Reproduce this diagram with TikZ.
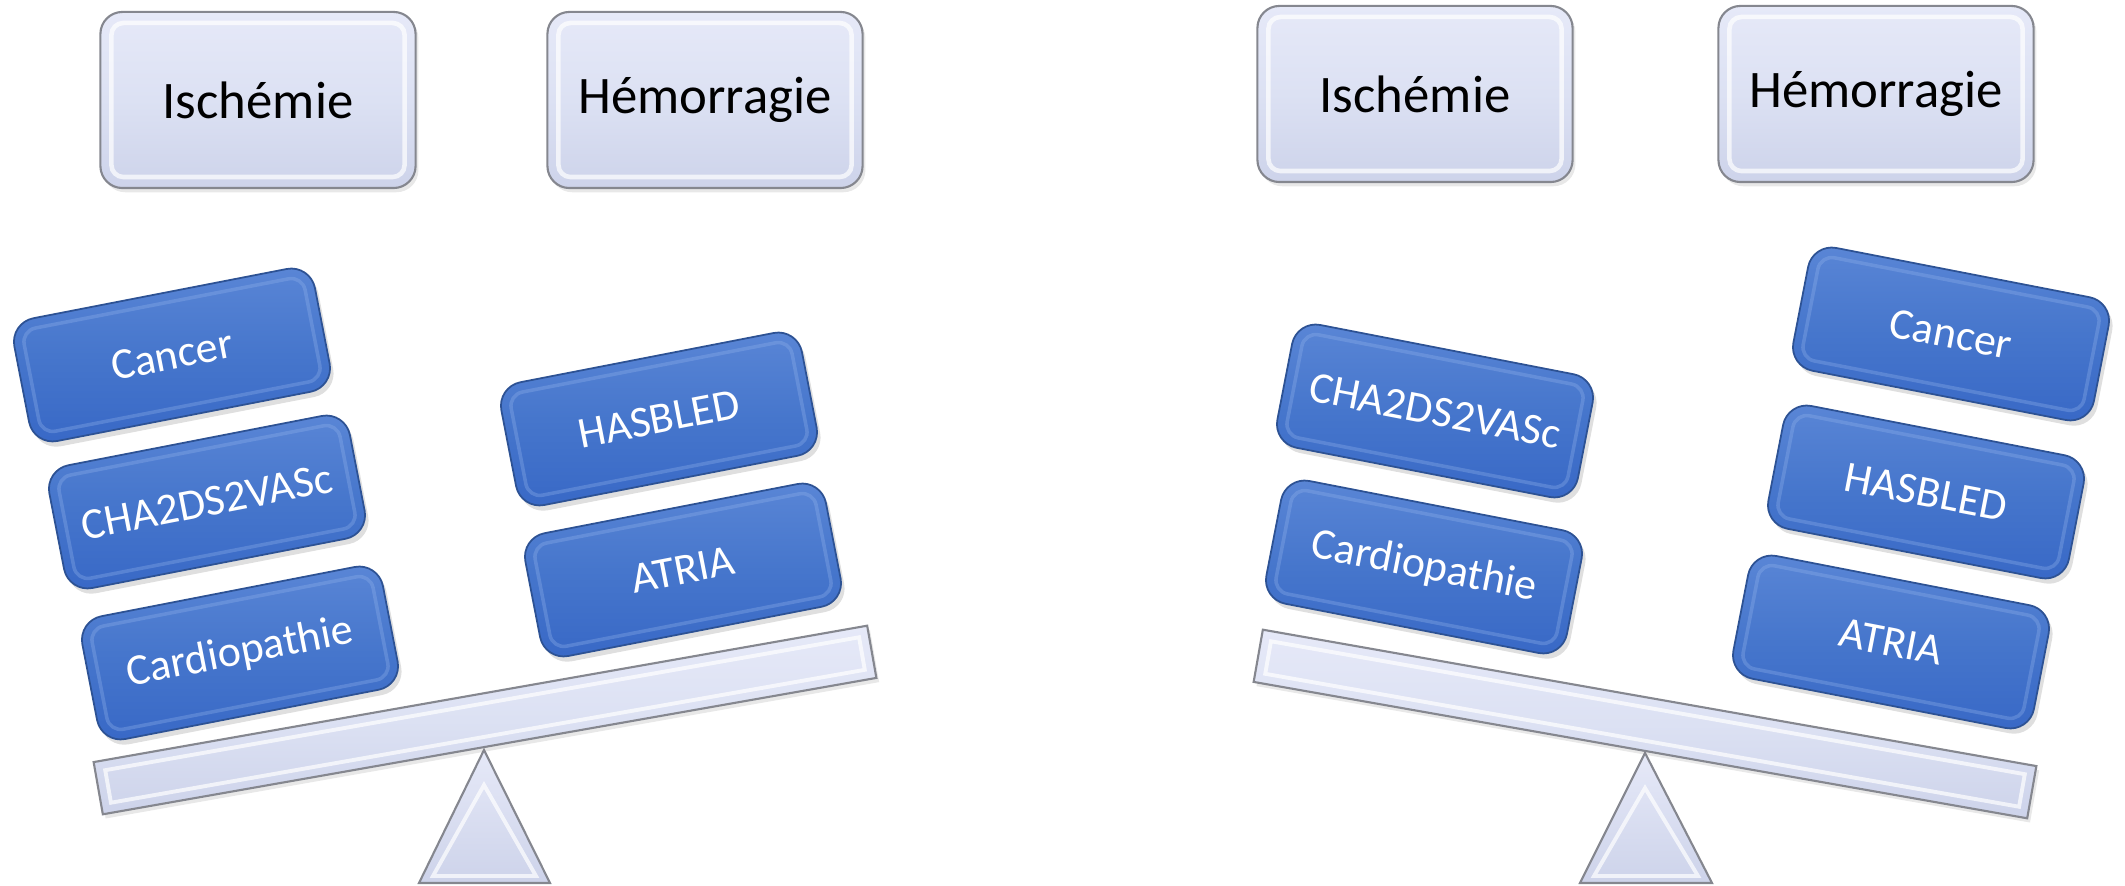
\documentclass[tikz,border=0pt]{standalone}
\usepackage{fontspec}
\setmainfont{Carlito}
\usetikzlibrary{shadows}
\definecolor{lav}{HTML}{DCE1F3}
\definecolor{lavtop}{HTML}{E6E9F8}
\definecolor{lavbot}{HTML}{CDD3EA}
\definecolor{lavedge}{HTML}{85878F}
\definecolor{bluetop}{HTML}{5A86D6}
\definecolor{bluemid}{HTML}{4676CC}
\definecolor{bluebot}{HTML}{3868C6}
\definecolor{blueedge}{HTML}{2D5294}
\definecolor{bluehi}{HTML}{8FB0EA}
\tikzset{
  topbox/.style={draw=lavedge, line width=0.6pt, rounded corners=0.22cm,
    minimum width=3.15cm, minimum height=1.76cm,
    top color=lavtop, bottom color=lavbot, middle color=lav,
    font=\fontsize{15}{18}\selectfont, text=black,
    drop shadow={opacity=0.18, shadow xshift=0.8pt, shadow yshift=-1.2pt}},
  topinner/.style={draw=white, line width=1.3pt, opacity=0.7, rounded corners=0.12cm,
    minimum width=2.93cm, minimum height=1.54cm},
  bluebox/.style={draw=blueedge, line width=0.5pt, rounded corners=0.24cm,
    minimum width=3.06cm, minimum height=1.25cm,
    top color=bluetop, bottom color=bluebot, middle color=bluemid,
    text=white, font=\fontsize{12.5}{15}\selectfont,
    drop shadow={opacity=0.25, shadow xshift=1pt, shadow yshift=-1.5pt}},
  blueinner/.style={draw=bluehi, line width=1pt, opacity=0.35, rounded corners=0.14cm,
    minimum width=2.86cm, minimum height=1.05cm},
  beambox/.style={draw=lavedge, line width=0.6pt,
    minimum width=7.85cm, minimum height=0.53cm,
    top color=lavtop, bottom color=lavbot, middle color=lav,
    drop shadow={opacity=0.18, shadow xshift=0.8pt, shadow yshift=-1.2pt}},
  beaminner/.style={draw=white, line width=1.1pt, opacity=0.7,
    minimum width=7.65cm, minimum height=0.33cm},
  fulcrum/.style={draw=lavedge, line width=0.6pt, top color=lavtop, bottom color=lavbot},
  fulcinner/.style={draw=white, line width=1.1pt, opacity=0.7},
}
\newcommand\mkbox[6]{%
  \node[#1box, rotate=#5] (#2) at (#3,#4) {#6};
  \node[#1inner, rotate=#5] (#2in) at (#3,#4) {};
}
\begin{document}
\begin{tikzpicture}[x=0.01cm, y=-0.01cm]
\useasboundingbox (0,0) rectangle (2125,886);
% top boxes
\mkbox{top}{isL}{258}{100}{0}{Ischémie}
\mkbox{top}{hemL}{705}{100}{0}{Hémorragie}
\mkbox{top}{isR}{1415}{94}{0}{Ischémie}
\mkbox{top}{hemR}{1876}{94}{0}{Hémorragie}
% fulcrums
\coordinate (fLa) at (484,750);
\coordinate (fLb) at (550,883);
\coordinate (fLc) at (419,883);
\draw[fulcrum] (fLa) -- (fLb) -- (fLc) -- cycle;
\coordinate (fLia) at (484,785);
\coordinate (fLib) at (536,876);
\coordinate (fLic) at (433,876);
\draw[fulcinner] (fLia) -- (fLib) -- (fLic) -- cycle;
\coordinate (fRa) at (1645,753);
\coordinate (fRb) at (1712,883);
\coordinate (fRc) at (1580,883);
\draw[fulcrum] (fRa) -- (fRb) -- (fRc) -- cycle;
\coordinate (fRia) at (1645,788);
\coordinate (fRib) at (1698,876);
\coordinate (fRic) at (1594,876);
\draw[fulcinner] (fRia) -- (fRib) -- (fRic) -- cycle;
% beams
\mkbox{beam}{beamL}{485}{720}{10}{}
\mkbox{beam}{beamR}{1645}{724}{-10}{}
% left blue boxes
\mkbox{blue}{cancerL}{172}{355}{11}{Cancer}
\mkbox{blue}{chaL}{207}{502}{11}{CHA2DS2VASc}
\mkbox{blue}{cardioL}{240}{653}{11}{Cardiopathie}
\mkbox{blue}{hasL}{659}{419}{11}{HASBLED}
\mkbox{blue}{atriaL}{683}{570}{11}{ATRIA}
% right blue boxes
\mkbox{blue}{chaR}{1435}{411}{-11}{CHA2DS2VASc}
\mkbox{blue}{cardioR}{1424}{567}{-11}{Cardiopathie}
\mkbox{blue}{cancerR}{1951}{334}{-11}{Cancer}
\mkbox{blue}{hasR}{1926}{492}{-11}{HASBLED}
\mkbox{blue}{atriaR}{1891}{642}{-11}{ATRIA}
\end{tikzpicture}
\end{document}
